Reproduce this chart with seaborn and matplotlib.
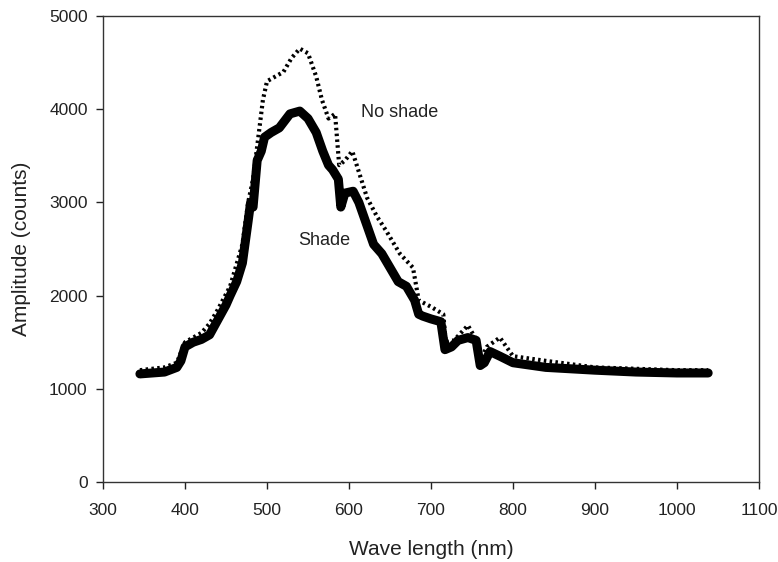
import matplotlib
matplotlib.use("Agg")
import matplotlib.pyplot as plt
import pandas as pd
import seaborn as sns

sns.set_style("ticks")
plt.rcParams["font.family"] = ["Liberation Sans", "DejaVu Sans"]

# Spectra (nm, counts)
wl_no_shade = [345, 375, 390, 400, 420, 430, 440, 455, 470, 477, 483, 488,
               495, 500, 510, 520, 530, 540, 550, 560, 567, 575, 583, 588,
               595, 604, 613, 622, 634, 645, 662, 678, 685, 700, 715, 718,
               728, 745, 757, 760, 768, 784, 800, 840, 900, 1000, 1038]
no_shade = [1200, 1230, 1280, 1500, 1600, 1700, 1850, 2100, 2550, 3000, 3250,
            3600, 4100, 4300, 4350, 4400, 4550, 4650, 4600, 4350, 4100, 3900,
            3950, 3400, 3450, 3550, 3300, 3050, 2850, 2700, 2450, 2300, 1950,
            1880, 1800, 1500, 1520, 1680, 1500, 1300, 1450, 1550, 1350, 1300,
            1230, 1200, 1200]

wl_shade = [345, 360, 375, 390, 395, 400, 410, 420, 430, 440, 450, 455, 463,
            470, 477, 480, 483, 488, 493, 497, 505, 515, 528, 540, 550, 560,
            568, 575, 580, 587, 590, 595, 605, 612, 620, 630, 640, 650, 660,
            670, 680, 685, 690, 700, 712, 717, 725, 733, 745, 755, 760, 765,
            772, 784, 800, 840, 900, 950, 1000, 1038]
shade = [1160, 1170, 1180, 1230, 1300, 1450, 1500, 1530, 1580, 1740, 1900,
         2000, 2150, 2350, 2800, 3000, 2950, 3450, 3550, 3700, 3750, 3800,
         3950, 3980, 3900, 3750, 3550, 3400, 3350, 3250, 2950, 3100, 3120,
         3000, 2800, 2550, 2450, 2300, 2150, 2100, 1950, 1800, 1780, 1750,
         1720, 1420, 1450, 1520, 1550, 1520, 1250, 1280, 1400, 1350, 1280,
         1230, 1200, 1180, 1170, 1170]

df_no = pd.DataFrame({"wl": wl_no_shade, "amp": no_shade})
df_sh = pd.DataFrame({"wl": wl_shade, "amp": shade})

fig = plt.figure(figsize=(7.78, 5.62), dpi=100)
ax = fig.add_axes([0.1324, 0.1423, 0.8432, 0.8292])

sns.lineplot(data=df_no, x="wl", y="amp", ax=ax, color="black",
             linestyle=(0, (0.6, 0.8)), linewidth=3.0)
sns.lineplot(data=df_sh, x="wl", y="amp", ax=ax, color="black", linewidth=6.5)

ax.set_xlim(300, 1100)
ax.set_ylim(0, 5000)
ax.set_xticks(range(300, 1101, 100))
ax.set_yticks(range(0, 5001, 1000))
ax.tick_params(direction="out", length=5, width=1, labelsize=12.5,
               top=False, right=False, colors="#222222")
ax.tick_params(axis="x", pad=10)
ax.tick_params(axis="y", pad=6)
for sp in ax.spines.values():
    sp.set_visible(True)
    sp.set_linewidth(1.0)
    sp.set_color("#333333")

ax.set_xlabel("Wave length (nm)", fontsize=15, labelpad=16, color="#222222")
ax.set_ylabel("Amplitude (counts)", fontsize=15, labelpad=13, color="#222222")

ax.text(615, 3960, "No shade", fontsize=13, va="center", color="#222222")
ax.text(538, 2590, "Shade", fontsize=13, va="center", color="#222222")

fig.savefig("out.png", dpi=100)
